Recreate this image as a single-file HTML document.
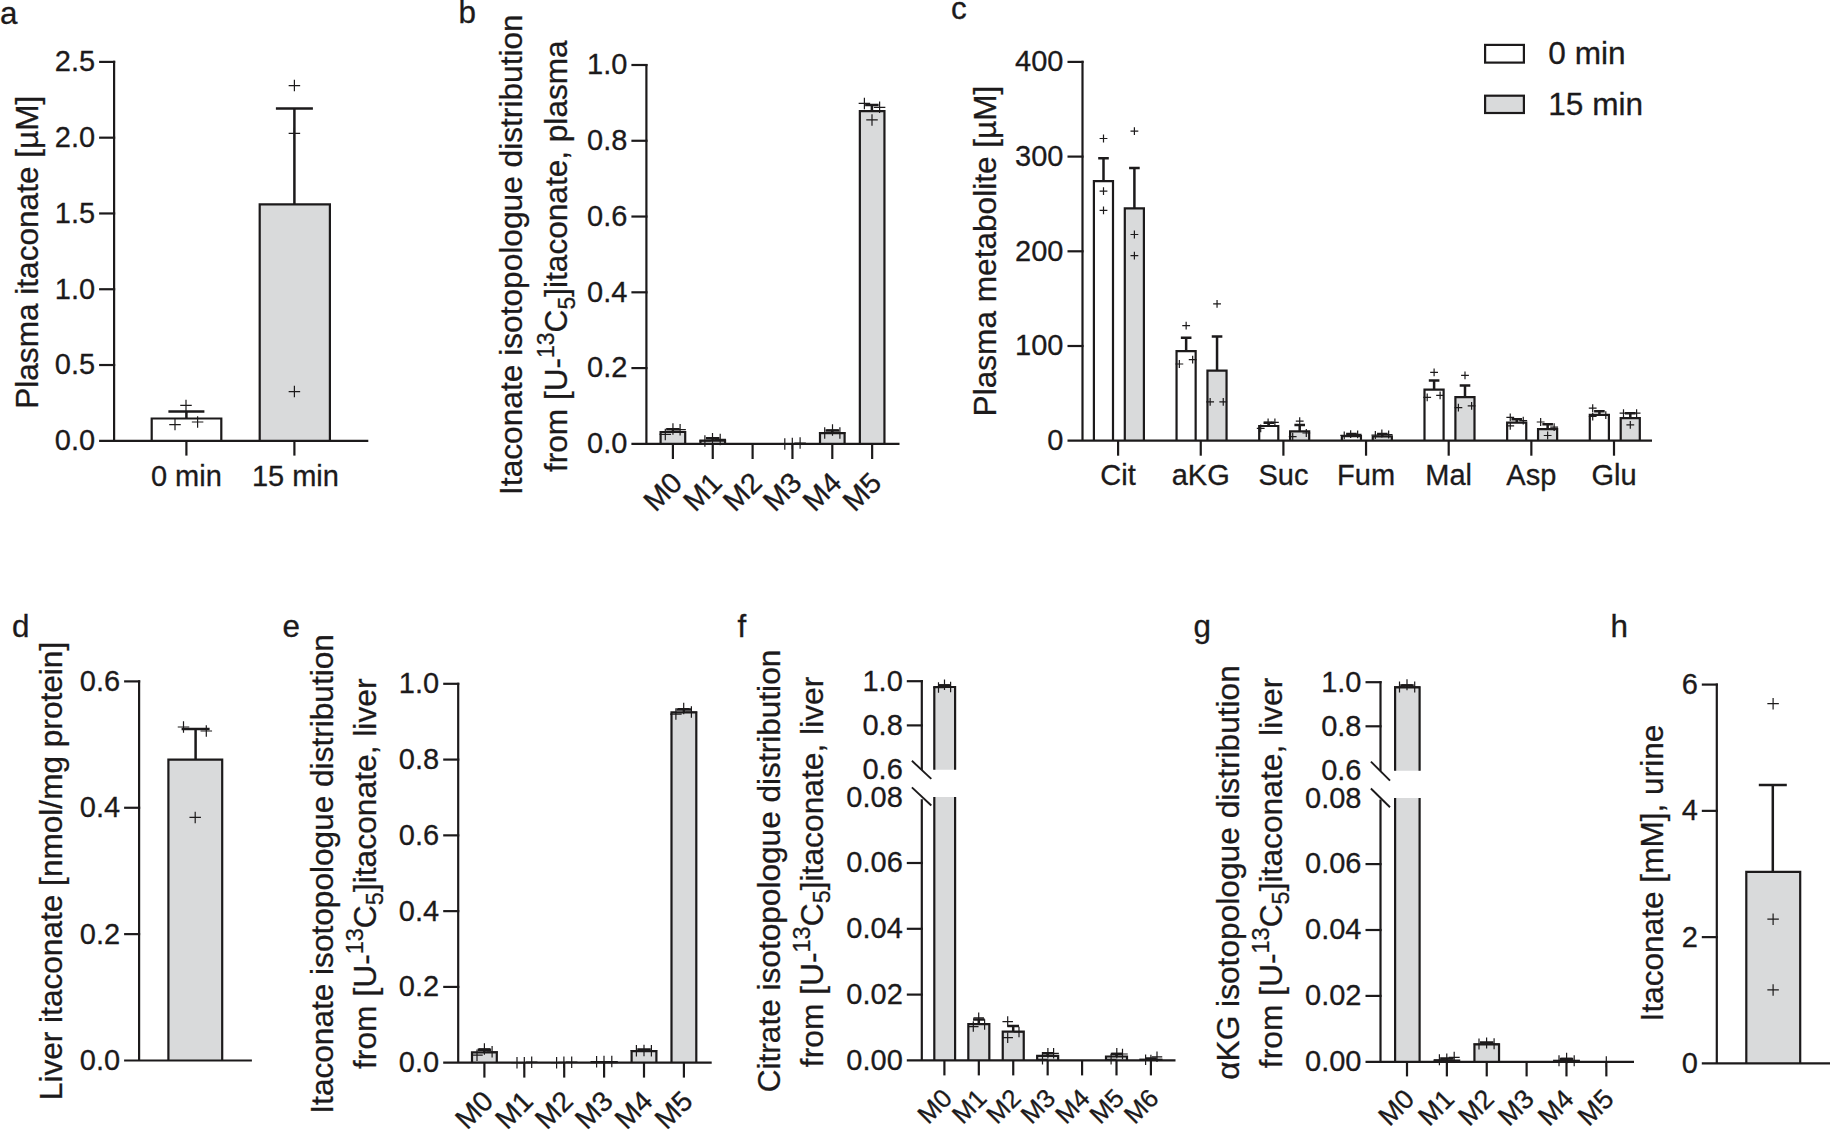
<!DOCTYPE html>
<html lang="en"><head><meta charset="utf-8"><title>Figure</title>
<style>
html,body{margin:0;padding:0;background:#fff;}
body{width:1830px;height:1130px;overflow:hidden;}
svg{display:block;}
svg text{font-family:"Liberation Sans",Arial,Helvetica,sans-serif;fill:#1c1a1b;stroke:#1c1a1b;stroke-width:0.3px;}
</style></head><body>
<svg width="1830" height="1130" viewBox="0 0 1830 1130">
<rect width="1830" height="1130" fill="#ffffff"/>
<path d="M151.70 440.80V418.50H221.30V440.80" fill="#ffffff" stroke="#1c1a1b" stroke-width="2.2" stroke-linejoin="miter"/>
<path d="M259.70 440.80V204.40H329.90V440.80" fill="#d9dadb" stroke="#1c1a1b" stroke-width="2.2" stroke-linejoin="miter"/>
<path d="M660.60 443.85V432.00H685.20V443.85" fill="#d9dadb" stroke="#1c1a1b" stroke-width="2.2" stroke-linejoin="miter"/>
<path d="M700.45 443.85V440.70H725.05V443.85" fill="#d9dadb" stroke="#1c1a1b" stroke-width="2.2" stroke-linejoin="miter"/>
<path d="M820.00 443.85V433.10H844.60V443.85" fill="#d9dadb" stroke="#1c1a1b" stroke-width="2.2" stroke-linejoin="miter"/>
<path d="M859.85 443.85V111.10H884.45V443.85" fill="#d9dadb" stroke="#1c1a1b" stroke-width="2.2" stroke-linejoin="miter"/>
<rect x="1485.10" y="44.90" width="38.80" height="17.70" fill="#ffffff" stroke="#1c1a1b" stroke-width="2.2"/>
<rect x="1485.10" y="95.70" width="38.80" height="17.30" fill="#d9dadb" stroke="#1c1a1b" stroke-width="2.2"/>
<path d="M1093.90 440.70V181.10H1113.00V440.70" fill="#ffffff" stroke="#1c1a1b" stroke-width="2.2" stroke-linejoin="miter"/>
<path d="M1124.80 440.70V208.40H1143.90V440.70" fill="#d9dadb" stroke="#1c1a1b" stroke-width="2.2" stroke-linejoin="miter"/>
<path d="M1176.55 440.70V351.20H1195.65V440.70" fill="#ffffff" stroke="#1c1a1b" stroke-width="2.2" stroke-linejoin="miter"/>
<path d="M1207.45 440.70V370.70H1226.55V440.70" fill="#d9dadb" stroke="#1c1a1b" stroke-width="2.2" stroke-linejoin="miter"/>
<path d="M1259.20 440.70V426.00H1278.30V440.70" fill="#ffffff" stroke="#1c1a1b" stroke-width="2.2" stroke-linejoin="miter"/>
<path d="M1290.10 440.70V431.30H1309.20V440.70" fill="#d9dadb" stroke="#1c1a1b" stroke-width="2.2" stroke-linejoin="miter"/>
<path d="M1341.85 440.70V436.20H1360.95V440.70" fill="#ffffff" stroke="#1c1a1b" stroke-width="2.2" stroke-linejoin="miter"/>
<path d="M1372.75 440.70V436.40H1391.85V440.70" fill="#d9dadb" stroke="#1c1a1b" stroke-width="2.2" stroke-linejoin="miter"/>
<path d="M1424.50 440.70V389.70H1443.60V440.70" fill="#ffffff" stroke="#1c1a1b" stroke-width="2.2" stroke-linejoin="miter"/>
<path d="M1455.40 440.70V397.20H1474.50V440.70" fill="#d9dadb" stroke="#1c1a1b" stroke-width="2.2" stroke-linejoin="miter"/>
<path d="M1507.15 440.70V422.70H1526.25V440.70" fill="#ffffff" stroke="#1c1a1b" stroke-width="2.2" stroke-linejoin="miter"/>
<path d="M1538.05 440.70V429.20H1557.15V440.70" fill="#d9dadb" stroke="#1c1a1b" stroke-width="2.2" stroke-linejoin="miter"/>
<path d="M1589.80 440.70V414.80H1608.90V440.70" fill="#ffffff" stroke="#1c1a1b" stroke-width="2.2" stroke-linejoin="miter"/>
<path d="M1620.70 440.70V418.20H1639.80V440.70" fill="#d9dadb" stroke="#1c1a1b" stroke-width="2.2" stroke-linejoin="miter"/>
<path d="M168.40 1060.50V759.60H222.20V1060.50" fill="#d9dadb" stroke="#1c1a1b" stroke-width="2.2" stroke-linejoin="miter"/>
<path d="M472.00 1062.70V1052.30H496.80V1062.70" fill="#d9dadb" stroke="#1c1a1b" stroke-width="2.2" stroke-linejoin="miter"/>
<path d="M590.60 1062.10H617.60" fill="none" stroke="#1c1a1b" stroke-width="2.2"/>
<path d="M631.60 1062.70V1051.20H656.40V1062.70" fill="#d9dadb" stroke="#1c1a1b" stroke-width="2.2" stroke-linejoin="miter"/>
<path d="M671.50 1062.70V712.40H696.30V1062.70" fill="#d9dadb" stroke="#1c1a1b" stroke-width="2.2" stroke-linejoin="miter"/>
<path d="M968.32 1060.40V1024.10H989.32V1060.40" fill="#d9dadb" stroke="#1c1a1b" stroke-width="2.2" stroke-linejoin="miter"/>
<path d="M1002.74 1060.40V1031.60H1023.74V1060.40" fill="#d9dadb" stroke="#1c1a1b" stroke-width="2.2" stroke-linejoin="miter"/>
<path d="M1037.16 1060.40V1055.80H1058.16V1060.40" fill="#d9dadb" stroke="#1c1a1b" stroke-width="2.2" stroke-linejoin="miter"/>
<path d="M1106.00 1060.40V1056.50H1127.00V1060.40" fill="#d9dadb" stroke="#1c1a1b" stroke-width="2.2" stroke-linejoin="miter"/>
<path d="M1139.32 1059.70H1162.52" fill="none" stroke="#1c1a1b" stroke-width="2.2"/>
<path d="M934.30 769.70V687.00H955.10V769.70" fill="#d9dadb" stroke="#1c1a1b" stroke-width="2.2"/>
<rect x="934.30" y="797.00" width="20.80" height="263.40" fill="#d9dadb"/>
<line x1="934.30" y1="797.00" x2="934.30" y2="1060.40" stroke="#1c1a1b" stroke-width="2.2"/>
<line x1="955.10" y1="797.00" x2="955.10" y2="1060.40" stroke="#1c1a1b" stroke-width="2.2"/>
<path d="M1434.57 1061.80V1060.50H1459.17V1061.80" fill="#d9dadb" stroke="#1c1a1b" stroke-width="2.2" stroke-linejoin="miter"/>
<path d="M1474.44 1061.80V1044.40H1499.04V1061.80" fill="#d9dadb" stroke="#1c1a1b" stroke-width="2.2" stroke-linejoin="miter"/>
<path d="M1553.08 1060.80H1579.88" fill="none" stroke="#1c1a1b" stroke-width="2.2"/>
<path d="M1395.10 770.70V687.30H1419.60V770.70" fill="#d9dadb" stroke="#1c1a1b" stroke-width="2.2"/>
<rect x="1395.10" y="798.00" width="24.50" height="263.80" fill="#d9dadb"/>
<line x1="1395.10" y1="798.00" x2="1395.10" y2="1061.80" stroke="#1c1a1b" stroke-width="2.2"/>
<line x1="1419.60" y1="798.00" x2="1419.60" y2="1061.80" stroke="#1c1a1b" stroke-width="2.2"/>
<path d="M1746.30 1063.40V871.90H1800.20V1063.40" fill="#d9dadb" stroke="#1c1a1b" stroke-width="2.2" stroke-linejoin="miter"/>
<line x1="114.10" y1="60.80" x2="114.10" y2="440.80" stroke="#1c1a1b" stroke-width="2.2"/>
<line x1="99.10" y1="365.02" x2="115.20" y2="365.02" stroke="#1c1a1b" stroke-width="2.2"/>
<line x1="99.10" y1="289.24" x2="115.20" y2="289.24" stroke="#1c1a1b" stroke-width="2.2"/>
<line x1="99.10" y1="213.46" x2="115.20" y2="213.46" stroke="#1c1a1b" stroke-width="2.2"/>
<line x1="99.10" y1="137.68" x2="115.20" y2="137.68" stroke="#1c1a1b" stroke-width="2.2"/>
<line x1="99.10" y1="61.90" x2="115.20" y2="61.90" stroke="#1c1a1b" stroke-width="2.2"/>
<line x1="99.10" y1="440.80" x2="368.30" y2="440.80" stroke="#1c1a1b" stroke-width="2.2"/>
<line x1="186.40" y1="440.80" x2="186.40" y2="455.60" stroke="#1c1a1b" stroke-width="2.2"/>
<line x1="294.40" y1="440.80" x2="294.40" y2="455.60" stroke="#1c1a1b" stroke-width="2.2"/>
<line x1="646.40" y1="63.90" x2="646.40" y2="443.85" stroke="#1c1a1b" stroke-width="2.2"/>
<line x1="631.40" y1="368.08" x2="647.50" y2="368.08" stroke="#1c1a1b" stroke-width="2.2"/>
<line x1="631.40" y1="292.31" x2="647.50" y2="292.31" stroke="#1c1a1b" stroke-width="2.2"/>
<line x1="631.40" y1="216.54" x2="647.50" y2="216.54" stroke="#1c1a1b" stroke-width="2.2"/>
<line x1="631.40" y1="140.77" x2="647.50" y2="140.77" stroke="#1c1a1b" stroke-width="2.2"/>
<line x1="631.40" y1="65.00" x2="647.50" y2="65.00" stroke="#1c1a1b" stroke-width="2.2"/>
<line x1="631.40" y1="443.85" x2="899.50" y2="443.85" stroke="#1c1a1b" stroke-width="2.2"/>
<line x1="672.90" y1="443.85" x2="672.90" y2="459.00" stroke="#1c1a1b" stroke-width="2.2"/>
<line x1="712.75" y1="443.85" x2="712.75" y2="459.00" stroke="#1c1a1b" stroke-width="2.2"/>
<line x1="752.60" y1="443.85" x2="752.60" y2="459.00" stroke="#1c1a1b" stroke-width="2.2"/>
<line x1="792.45" y1="443.85" x2="792.45" y2="459.00" stroke="#1c1a1b" stroke-width="2.2"/>
<line x1="832.30" y1="443.85" x2="832.30" y2="459.00" stroke="#1c1a1b" stroke-width="2.2"/>
<line x1="872.15" y1="443.85" x2="872.15" y2="459.00" stroke="#1c1a1b" stroke-width="2.2"/>
<line x1="1082.50" y1="60.80" x2="1082.50" y2="440.70" stroke="#1c1a1b" stroke-width="2.2"/>
<line x1="1067.50" y1="346.00" x2="1083.60" y2="346.00" stroke="#1c1a1b" stroke-width="2.2"/>
<line x1="1067.50" y1="251.30" x2="1083.60" y2="251.30" stroke="#1c1a1b" stroke-width="2.2"/>
<line x1="1067.50" y1="156.60" x2="1083.60" y2="156.60" stroke="#1c1a1b" stroke-width="2.2"/>
<line x1="1067.50" y1="61.90" x2="1083.60" y2="61.90" stroke="#1c1a1b" stroke-width="2.2"/>
<line x1="1067.50" y1="440.70" x2="1652.00" y2="440.70" stroke="#1c1a1b" stroke-width="2.2"/>
<line x1="1118.10" y1="440.70" x2="1118.10" y2="455.70" stroke="#1c1a1b" stroke-width="2.2"/>
<line x1="1200.75" y1="440.70" x2="1200.75" y2="455.70" stroke="#1c1a1b" stroke-width="2.2"/>
<line x1="1283.40" y1="440.70" x2="1283.40" y2="455.70" stroke="#1c1a1b" stroke-width="2.2"/>
<line x1="1366.05" y1="440.70" x2="1366.05" y2="455.70" stroke="#1c1a1b" stroke-width="2.2"/>
<line x1="1448.70" y1="440.70" x2="1448.70" y2="455.70" stroke="#1c1a1b" stroke-width="2.2"/>
<line x1="1531.35" y1="440.70" x2="1531.35" y2="455.70" stroke="#1c1a1b" stroke-width="2.2"/>
<line x1="1614.00" y1="440.70" x2="1614.00" y2="455.70" stroke="#1c1a1b" stroke-width="2.2"/>
<line x1="139.10" y1="680.30" x2="139.10" y2="1060.50" stroke="#1c1a1b" stroke-width="2.2"/>
<line x1="124.10" y1="934.13" x2="140.20" y2="934.13" stroke="#1c1a1b" stroke-width="2.2"/>
<line x1="124.10" y1="807.76" x2="140.20" y2="807.76" stroke="#1c1a1b" stroke-width="2.2"/>
<line x1="124.10" y1="681.39" x2="140.20" y2="681.39" stroke="#1c1a1b" stroke-width="2.2"/>
<line x1="124.10" y1="1060.50" x2="251.90" y2="1060.50" stroke="#1c1a1b" stroke-width="2.2"/>
<line x1="458.20" y1="682.70" x2="458.20" y2="1062.70" stroke="#1c1a1b" stroke-width="2.2"/>
<line x1="443.20" y1="986.92" x2="459.30" y2="986.92" stroke="#1c1a1b" stroke-width="2.2"/>
<line x1="443.20" y1="911.14" x2="459.30" y2="911.14" stroke="#1c1a1b" stroke-width="2.2"/>
<line x1="443.20" y1="835.36" x2="459.30" y2="835.36" stroke="#1c1a1b" stroke-width="2.2"/>
<line x1="443.20" y1="759.58" x2="459.30" y2="759.58" stroke="#1c1a1b" stroke-width="2.2"/>
<line x1="443.20" y1="683.80" x2="459.30" y2="683.80" stroke="#1c1a1b" stroke-width="2.2"/>
<line x1="443.20" y1="1062.70" x2="711.70" y2="1062.70" stroke="#1c1a1b" stroke-width="2.2"/>
<line x1="484.40" y1="1062.70" x2="484.40" y2="1077.60" stroke="#1c1a1b" stroke-width="2.2"/>
<line x1="524.30" y1="1062.70" x2="524.30" y2="1077.60" stroke="#1c1a1b" stroke-width="2.2"/>
<line x1="564.20" y1="1062.70" x2="564.20" y2="1077.60" stroke="#1c1a1b" stroke-width="2.2"/>
<line x1="604.10" y1="1062.70" x2="604.10" y2="1077.60" stroke="#1c1a1b" stroke-width="2.2"/>
<line x1="644.00" y1="1062.70" x2="644.00" y2="1077.60" stroke="#1c1a1b" stroke-width="2.2"/>
<line x1="683.90" y1="1062.70" x2="683.90" y2="1077.60" stroke="#1c1a1b" stroke-width="2.2"/>
<line x1="921.80" y1="680.10" x2="921.80" y2="770.00" stroke="#1c1a1b" stroke-width="2.2"/>
<line x1="921.80" y1="799.20" x2="921.80" y2="1060.40" stroke="#1c1a1b" stroke-width="2.2"/>
<line x1="906.80" y1="681.20" x2="922.90" y2="681.20" stroke="#1c1a1b" stroke-width="2.2"/>
<line x1="906.80" y1="725.40" x2="922.90" y2="725.40" stroke="#1c1a1b" stroke-width="2.2"/>
<line x1="906.80" y1="994.60" x2="922.90" y2="994.60" stroke="#1c1a1b" stroke-width="2.2"/>
<line x1="906.80" y1="928.80" x2="922.90" y2="928.80" stroke="#1c1a1b" stroke-width="2.2"/>
<line x1="906.80" y1="863.00" x2="922.90" y2="863.00" stroke="#1c1a1b" stroke-width="2.2"/>
<line x1="911.90" y1="760.80" x2="931.30" y2="778.90" stroke="#1c1a1b" stroke-width="1.9"/>
<line x1="911.90" y1="787.40" x2="931.30" y2="805.50" stroke="#1c1a1b" stroke-width="1.9"/>
<line x1="906.80" y1="1060.40" x2="1175.50" y2="1060.40" stroke="#1c1a1b" stroke-width="2.2"/>
<line x1="944.40" y1="1060.40" x2="944.40" y2="1075.40" stroke="#1c1a1b" stroke-width="2.2"/>
<line x1="978.82" y1="1060.40" x2="978.82" y2="1075.40" stroke="#1c1a1b" stroke-width="2.2"/>
<line x1="1013.24" y1="1060.40" x2="1013.24" y2="1075.40" stroke="#1c1a1b" stroke-width="2.2"/>
<line x1="1047.66" y1="1060.40" x2="1047.66" y2="1075.40" stroke="#1c1a1b" stroke-width="2.2"/>
<line x1="1082.08" y1="1060.40" x2="1082.08" y2="1075.40" stroke="#1c1a1b" stroke-width="2.2"/>
<line x1="1116.50" y1="1060.40" x2="1116.50" y2="1075.40" stroke="#1c1a1b" stroke-width="2.2"/>
<line x1="1150.92" y1="1060.40" x2="1150.92" y2="1075.40" stroke="#1c1a1b" stroke-width="2.2"/>
<line x1="1380.50" y1="681.10" x2="1380.50" y2="770.90" stroke="#1c1a1b" stroke-width="2.2"/>
<line x1="1380.50" y1="799.40" x2="1380.50" y2="1061.80" stroke="#1c1a1b" stroke-width="2.2"/>
<line x1="1365.50" y1="682.20" x2="1381.60" y2="682.20" stroke="#1c1a1b" stroke-width="2.2"/>
<line x1="1365.50" y1="726.30" x2="1381.60" y2="726.30" stroke="#1c1a1b" stroke-width="2.2"/>
<line x1="1365.50" y1="995.90" x2="1381.60" y2="995.90" stroke="#1c1a1b" stroke-width="2.2"/>
<line x1="1365.50" y1="930.00" x2="1381.60" y2="930.00" stroke="#1c1a1b" stroke-width="2.2"/>
<line x1="1365.50" y1="864.10" x2="1381.60" y2="864.10" stroke="#1c1a1b" stroke-width="2.2"/>
<line x1="1370.90" y1="761.60" x2="1390.00" y2="780.60" stroke="#1c1a1b" stroke-width="1.9"/>
<line x1="1370.90" y1="788.50" x2="1390.00" y2="807.20" stroke="#1c1a1b" stroke-width="1.9"/>
<line x1="1365.50" y1="1061.80" x2="1634.00" y2="1061.80" stroke="#1c1a1b" stroke-width="2.2"/>
<line x1="1407.00" y1="1061.80" x2="1407.00" y2="1076.40" stroke="#1c1a1b" stroke-width="2.2"/>
<line x1="1446.87" y1="1061.80" x2="1446.87" y2="1076.40" stroke="#1c1a1b" stroke-width="2.2"/>
<line x1="1486.74" y1="1061.80" x2="1486.74" y2="1076.40" stroke="#1c1a1b" stroke-width="2.2"/>
<line x1="1526.61" y1="1061.80" x2="1526.61" y2="1076.40" stroke="#1c1a1b" stroke-width="2.2"/>
<line x1="1566.48" y1="1061.80" x2="1566.48" y2="1076.40" stroke="#1c1a1b" stroke-width="2.2"/>
<line x1="1606.35" y1="1061.80" x2="1606.35" y2="1076.40" stroke="#1c1a1b" stroke-width="2.2"/>
<line x1="1716.80" y1="683.50" x2="1716.80" y2="1063.40" stroke="#1c1a1b" stroke-width="2.2"/>
<line x1="1701.80" y1="937.13" x2="1717.90" y2="937.13" stroke="#1c1a1b" stroke-width="2.2"/>
<line x1="1701.80" y1="810.86" x2="1717.90" y2="810.86" stroke="#1c1a1b" stroke-width="2.2"/>
<line x1="1701.80" y1="684.59" x2="1717.90" y2="684.59" stroke="#1c1a1b" stroke-width="2.2"/>
<line x1="1701.80" y1="1063.40" x2="1830.00" y2="1063.40" stroke="#1c1a1b" stroke-width="2.2"/>
<path d="M186.40 418.00V411.40M168.40 411.40H204.40" stroke="#1c1a1b" stroke-width="2.5" fill="none"/>
<path d="M294.40 204.00V108.60M275.90 108.60H312.90" stroke="#1c1a1b" stroke-width="2.5" fill="none"/>
<path d="M180.25 405.40H191.75M186.00 399.65V411.15" stroke="#1c1a1b" stroke-width="1.2" fill="none"/>
<path d="M169.25 424.60H180.75M175.00 418.85V430.35" stroke="#1c1a1b" stroke-width="1.2" fill="none"/>
<path d="M191.85 422.00H203.35M197.60 416.25V427.75" stroke="#1c1a1b" stroke-width="1.2" fill="none"/>
<path d="M288.65 85.60H300.15M294.40 79.85V91.35" stroke="#1c1a1b" stroke-width="1.2" fill="none"/>
<path d="M288.65 133.40H300.15M294.40 127.65V139.15" stroke="#1c1a1b" stroke-width="1.2" fill="none"/>
<path d="M288.65 391.60H300.15M294.40 385.85V397.35" stroke="#1c1a1b" stroke-width="1.2" fill="none"/>
<path d="M672.90 431.00V429.30M666.15 429.30H679.65" stroke="#1c1a1b" stroke-width="2.5" fill="none"/>
<path d="M712.70 440.00V438.30M705.95 438.30H719.45" stroke="#1c1a1b" stroke-width="2.5" fill="none"/>
<path d="M832.30 432.00V430.50M825.55 430.50H839.05" stroke="#1c1a1b" stroke-width="2.5" fill="none"/>
<path d="M871.90 110.00V105.00M865.15 105.00H878.65" stroke="#1c1a1b" stroke-width="2.5" fill="none"/>
<path d="M667.20 429.00H678.70M672.95 423.25V434.75" stroke="#1c1a1b" stroke-width="1.2" fill="none"/>
<path d="M674.35 429.70H685.85M680.10 423.95V435.45" stroke="#1c1a1b" stroke-width="1.2" fill="none"/>
<path d="M659.55 434.40H671.05M665.30 428.65V440.15" stroke="#1c1a1b" stroke-width="1.2" fill="none"/>
<path d="M699.15 441.00H710.65M704.90 435.25V446.75" stroke="#1c1a1b" stroke-width="1.2" fill="none"/>
<path d="M706.75 438.70H718.25M712.50 432.95V444.45" stroke="#1c1a1b" stroke-width="1.2" fill="none"/>
<path d="M714.45 439.40H725.95M720.20 433.65V445.15" stroke="#1c1a1b" stroke-width="1.2" fill="none"/>
<path d="M779.05 443.90H790.55M784.80 438.15V449.65" stroke="#1c1a1b" stroke-width="1.2" fill="none"/>
<path d="M786.55 443.60H798.05M792.30 437.85V449.35" stroke="#1c1a1b" stroke-width="1.2" fill="none"/>
<path d="M794.35 443.00H805.85M800.10 437.25V448.75" stroke="#1c1a1b" stroke-width="1.2" fill="none"/>
<path d="M818.95 433.00H830.45M824.70 427.25V438.75" stroke="#1c1a1b" stroke-width="1.2" fill="none"/>
<path d="M826.75 430.00H838.25M832.50 424.25V435.75" stroke="#1c1a1b" stroke-width="1.2" fill="none"/>
<path d="M834.15 433.00H845.65M839.90 427.25V438.75" stroke="#1c1a1b" stroke-width="1.2" fill="none"/>
<path d="M858.65 103.40H870.15M864.40 97.65V109.15" stroke="#1c1a1b" stroke-width="1.2" fill="none"/>
<path d="M873.85 107.30H885.35M879.60 101.55V113.05" stroke="#1c1a1b" stroke-width="1.2" fill="none"/>
<path d="M866.25 119.90H877.75M872.00 114.15V125.65" stroke="#1c1a1b" stroke-width="1.2" fill="none"/>
<path d="M1103.50 181.00V158.30M1098.20 158.30H1108.80" stroke="#1c1a1b" stroke-width="2.5" fill="none"/>
<path d="M1099.60 138.50H1107.40M1103.50 134.60V142.40" stroke="#1c1a1b" stroke-width="1.2" fill="none"/>
<path d="M1099.60 191.20H1107.40M1103.50 187.30V195.10" stroke="#1c1a1b" stroke-width="1.2" fill="none"/>
<path d="M1099.60 210.40H1107.40M1103.50 206.50V214.30" stroke="#1c1a1b" stroke-width="1.2" fill="none"/>
<path d="M1134.40 208.30V167.90M1129.10 167.90H1139.70" stroke="#1c1a1b" stroke-width="2.5" fill="none"/>
<path d="M1130.50 131.10H1138.30M1134.40 127.20V135.00" stroke="#1c1a1b" stroke-width="1.2" fill="none"/>
<path d="M1130.50 234.50H1138.30M1134.40 230.60V238.40" stroke="#1c1a1b" stroke-width="1.2" fill="none"/>
<path d="M1130.50 255.60H1138.30M1134.40 251.70V259.50" stroke="#1c1a1b" stroke-width="1.2" fill="none"/>
<path d="M1186.15 351.10V337.70M1180.85 337.70H1191.45" stroke="#1c1a1b" stroke-width="2.5" fill="none"/>
<path d="M1182.25 325.60H1190.05M1186.15 321.70V329.50" stroke="#1c1a1b" stroke-width="1.2" fill="none"/>
<path d="M1175.45 364.00H1183.25M1179.35 360.10V367.90" stroke="#1c1a1b" stroke-width="1.2" fill="none"/>
<path d="M1188.75 359.70H1196.55M1192.65 355.80V363.60" stroke="#1c1a1b" stroke-width="1.2" fill="none"/>
<path d="M1217.05 370.60V336.50M1211.75 336.50H1222.35" stroke="#1c1a1b" stroke-width="2.5" fill="none"/>
<path d="M1213.15 303.90H1220.95M1217.05 300.00V307.80" stroke="#1c1a1b" stroke-width="1.2" fill="none"/>
<path d="M1206.25 401.80H1214.05M1210.15 397.90V405.70" stroke="#1c1a1b" stroke-width="1.2" fill="none"/>
<path d="M1219.35 401.80H1227.15M1223.25 397.90V405.70" stroke="#1c1a1b" stroke-width="1.2" fill="none"/>
<path d="M1268.80 425.90V422.80M1263.50 422.80H1274.10" stroke="#1c1a1b" stroke-width="2.5" fill="none"/>
<path d="M1264.20 422.30H1272.00M1268.10 418.40V426.20" stroke="#1c1a1b" stroke-width="1.2" fill="none"/>
<path d="M1271.00 422.40H1278.80M1274.90 418.50V426.30" stroke="#1c1a1b" stroke-width="1.2" fill="none"/>
<path d="M1256.80 428.30H1264.60M1260.70 424.40V432.20" stroke="#1c1a1b" stroke-width="1.2" fill="none"/>
<path d="M1299.70 431.20V425.10M1294.40 425.10H1305.00" stroke="#1c1a1b" stroke-width="2.5" fill="none"/>
<path d="M1295.80 421.20H1303.60M1299.70 417.30V425.10" stroke="#1c1a1b" stroke-width="1.2" fill="none"/>
<path d="M1288.80 436.70H1296.60M1292.70 432.80V440.60" stroke="#1c1a1b" stroke-width="1.2" fill="none"/>
<path d="M1302.40 433.00H1310.20M1306.30 429.10V436.90" stroke="#1c1a1b" stroke-width="1.2" fill="none"/>
<path d="M1351.45 436.10V434.00M1346.15 434.00H1356.75" stroke="#1c1a1b" stroke-width="2.5" fill="none"/>
<path d="M1340.35 435.30H1348.15M1344.25 431.40V439.20" stroke="#1c1a1b" stroke-width="1.2" fill="none"/>
<path d="M1346.75 434.10H1354.55M1350.65 430.20V438.00" stroke="#1c1a1b" stroke-width="1.2" fill="none"/>
<path d="M1353.75 434.30H1361.55M1357.65 430.40V438.20" stroke="#1c1a1b" stroke-width="1.2" fill="none"/>
<path d="M1382.35 436.30V434.00M1377.05 434.00H1387.65" stroke="#1c1a1b" stroke-width="2.5" fill="none"/>
<path d="M1371.45 435.00H1379.25M1375.35 431.10V438.90" stroke="#1c1a1b" stroke-width="1.2" fill="none"/>
<path d="M1377.95 433.50H1385.75M1381.85 429.60V437.40" stroke="#1c1a1b" stroke-width="1.2" fill="none"/>
<path d="M1384.75 434.50H1392.55M1388.65 430.60V438.40" stroke="#1c1a1b" stroke-width="1.2" fill="none"/>
<path d="M1434.10 389.60V380.40M1428.80 380.40H1439.40" stroke="#1c1a1b" stroke-width="2.5" fill="none"/>
<path d="M1430.20 372.40H1438.00M1434.10 368.50V376.30" stroke="#1c1a1b" stroke-width="1.2" fill="none"/>
<path d="M1423.30 397.30H1431.10M1427.20 393.40V401.20" stroke="#1c1a1b" stroke-width="1.2" fill="none"/>
<path d="M1436.20 395.40H1444.00M1440.10 391.50V399.30" stroke="#1c1a1b" stroke-width="1.2" fill="none"/>
<path d="M1465.00 397.10V385.60M1459.70 385.60H1470.30" stroke="#1c1a1b" stroke-width="2.5" fill="none"/>
<path d="M1461.10 375.40H1468.90M1465.00 371.50V379.30" stroke="#1c1a1b" stroke-width="1.2" fill="none"/>
<path d="M1454.50 407.70H1462.30M1458.40 403.80V411.60" stroke="#1c1a1b" stroke-width="1.2" fill="none"/>
<path d="M1467.70 405.80H1475.50M1471.60 401.90V409.70" stroke="#1c1a1b" stroke-width="1.2" fill="none"/>
<path d="M1516.75 422.60V419.30M1511.45 419.30H1522.05" stroke="#1c1a1b" stroke-width="2.5" fill="none"/>
<path d="M1506.35 417.40H1514.15M1510.25 413.50V421.30" stroke="#1c1a1b" stroke-width="1.2" fill="none"/>
<path d="M1506.35 425.80H1514.15M1510.25 421.90V429.70" stroke="#1c1a1b" stroke-width="1.2" fill="none"/>
<path d="M1519.35 420.70H1527.15M1523.25 416.80V424.60" stroke="#1c1a1b" stroke-width="1.2" fill="none"/>
<path d="M1547.65 429.10V424.20M1542.35 424.20H1552.95" stroke="#1c1a1b" stroke-width="2.5" fill="none"/>
<path d="M1536.75 422.00H1544.55M1540.65 418.10V425.90" stroke="#1c1a1b" stroke-width="1.2" fill="none"/>
<path d="M1550.25 427.20H1558.05M1554.15 423.30V431.10" stroke="#1c1a1b" stroke-width="1.2" fill="none"/>
<path d="M1543.75 435.50H1551.55M1547.65 431.60V439.40" stroke="#1c1a1b" stroke-width="1.2" fill="none"/>
<path d="M1599.40 414.70V411.20M1594.10 411.20H1604.70" stroke="#1c1a1b" stroke-width="2.5" fill="none"/>
<path d="M1588.80 408.10H1596.60M1592.70 404.20V412.00" stroke="#1c1a1b" stroke-width="1.2" fill="none"/>
<path d="M1588.80 416.50H1596.60M1592.70 412.60V420.40" stroke="#1c1a1b" stroke-width="1.2" fill="none"/>
<path d="M1601.90 415.10H1609.70M1605.80 411.20V419.00" stroke="#1c1a1b" stroke-width="1.2" fill="none"/>
<path d="M1630.30 418.10V413.20M1625.00 413.20H1635.60" stroke="#1c1a1b" stroke-width="2.5" fill="none"/>
<path d="M1619.60 413.20H1627.40M1623.50 409.30V417.10" stroke="#1c1a1b" stroke-width="1.2" fill="none"/>
<path d="M1632.70 413.20H1640.50M1636.60 409.30V417.10" stroke="#1c1a1b" stroke-width="1.2" fill="none"/>
<path d="M1626.40 424.80H1634.20M1630.30 420.90V428.70" stroke="#1c1a1b" stroke-width="1.2" fill="none"/>
<path d="M195.60 759.70V728.90M181.60 728.90H209.60" stroke="#1c1a1b" stroke-width="2.5" fill="none"/>
<path d="M177.75 727.00H189.25M183.50 721.25V732.75" stroke="#1c1a1b" stroke-width="1.2" fill="none"/>
<path d="M200.55 731.00H212.05M206.30 725.25V736.75" stroke="#1c1a1b" stroke-width="1.2" fill="none"/>
<path d="M189.45 817.40H200.95M195.20 811.65V823.15" stroke="#1c1a1b" stroke-width="1.2" fill="none"/>
<path d="M484.40 1052.00V1049.80M477.65 1049.80H491.15" stroke="#1c1a1b" stroke-width="2.5" fill="none"/>
<path d="M644.00 1051.00V1049.60M637.25 1049.60H650.75" stroke="#1c1a1b" stroke-width="2.5" fill="none"/>
<path d="M683.90 712.00V709.50M676.40 709.50H691.40" stroke="#1c1a1b" stroke-width="2.5" fill="none"/>
<path d="M478.65 1048.90H490.15M484.40 1043.15V1054.65" stroke="#1c1a1b" stroke-width="1.2" fill="none"/>
<path d="M486.35 1051.80H497.85M492.10 1046.05V1057.55" stroke="#1c1a1b" stroke-width="1.2" fill="none"/>
<path d="M471.25 1055.20H482.75M477.00 1049.45V1060.95" stroke="#1c1a1b" stroke-width="1.2" fill="none"/>
<path d="M511.25 1062.70H522.75M517.00 1056.95V1068.45" stroke="#1c1a1b" stroke-width="1.2" fill="none"/>
<path d="M518.55 1062.70H530.05M524.30 1056.95V1068.45" stroke="#1c1a1b" stroke-width="1.2" fill="none"/>
<path d="M525.95 1062.20H537.45M531.70 1056.45V1067.95" stroke="#1c1a1b" stroke-width="1.2" fill="none"/>
<path d="M550.85 1062.70H562.35M556.60 1056.95V1068.45" stroke="#1c1a1b" stroke-width="1.2" fill="none"/>
<path d="M558.15 1062.30H569.65M563.90 1056.55V1068.05" stroke="#1c1a1b" stroke-width="1.2" fill="none"/>
<path d="M565.95 1062.20H577.45M571.70 1056.45V1067.95" stroke="#1c1a1b" stroke-width="1.2" fill="none"/>
<path d="M590.85 1061.70H602.35M596.60 1055.95V1067.45" stroke="#1c1a1b" stroke-width="1.2" fill="none"/>
<path d="M598.25 1061.50H609.75M604.00 1055.75V1067.25" stroke="#1c1a1b" stroke-width="1.2" fill="none"/>
<path d="M606.05 1061.60H617.55M611.80 1055.85V1067.35" stroke="#1c1a1b" stroke-width="1.2" fill="none"/>
<path d="M630.65 1050.70H642.15M636.40 1044.95V1056.45" stroke="#1c1a1b" stroke-width="1.2" fill="none"/>
<path d="M638.25 1050.40H649.75M644.00 1044.65V1056.15" stroke="#1c1a1b" stroke-width="1.2" fill="none"/>
<path d="M645.65 1050.70H657.15M651.40 1044.95V1056.45" stroke="#1c1a1b" stroke-width="1.2" fill="none"/>
<path d="M677.95 708.50H689.45M683.70 702.75V714.25" stroke="#1c1a1b" stroke-width="1.2" fill="none"/>
<path d="M685.65 712.10H697.15M691.40 706.35V717.85" stroke="#1c1a1b" stroke-width="1.2" fill="none"/>
<path d="M670.15 714.10H681.65M675.90 708.35V719.85" stroke="#1c1a1b" stroke-width="1.2" fill="none"/>
<path d="M944.50 687.00V685.40M938.75 685.40H950.25" stroke="#1c1a1b" stroke-width="2.5" fill="none"/>
<path d="M978.80 1024.00V1019.50M973.05 1019.50H984.55" stroke="#1c1a1b" stroke-width="2.5" fill="none"/>
<path d="M1013.20 1031.00V1025.90M1007.40 1025.90H1019.00" stroke="#1c1a1b" stroke-width="2.5" fill="none"/>
<path d="M1047.60 1055.00V1053.30M1041.85 1053.30H1053.35" stroke="#1c1a1b" stroke-width="2.5" fill="none"/>
<path d="M1116.50 1056.00V1054.00M1110.75 1054.00H1122.25" stroke="#1c1a1b" stroke-width="2.5" fill="none"/>
<path d="M1150.90 1060.00V1058.60M1145.15 1058.60H1156.65" stroke="#1c1a1b" stroke-width="2.5" fill="none"/>
<path d="M939.25 684.80H949.75M944.50 679.55V690.05" stroke="#1c1a1b" stroke-width="1.2" fill="none"/>
<path d="M933.25 687.60H943.75M938.50 682.35V692.85" stroke="#1c1a1b" stroke-width="1.2" fill="none"/>
<path d="M945.35 686.90H955.85M950.60 681.65V692.15" stroke="#1c1a1b" stroke-width="1.2" fill="none"/>
<path d="M973.45 1017.80H983.95M978.70 1012.55V1023.05" stroke="#1c1a1b" stroke-width="1.2" fill="none"/>
<path d="M968.05 1026.60H978.55M973.30 1021.35V1031.85" stroke="#1c1a1b" stroke-width="1.2" fill="none"/>
<path d="M979.35 1024.50H989.85M984.60 1019.25V1029.75" stroke="#1c1a1b" stroke-width="1.2" fill="none"/>
<path d="M1002.45 1021.60H1012.95M1007.70 1016.35V1026.85" stroke="#1c1a1b" stroke-width="1.2" fill="none"/>
<path d="M1002.45 1037.70H1012.95M1007.70 1032.45V1042.95" stroke="#1c1a1b" stroke-width="1.2" fill="none"/>
<path d="M1013.75 1032.00H1024.25M1019.00 1026.75V1037.25" stroke="#1c1a1b" stroke-width="1.2" fill="none"/>
<path d="M1042.65 1053.30H1053.15M1047.90 1048.05V1058.55" stroke="#1c1a1b" stroke-width="1.2" fill="none"/>
<path d="M1048.35 1053.30H1058.85M1053.60 1048.05V1058.55" stroke="#1c1a1b" stroke-width="1.2" fill="none"/>
<path d="M1037.25 1059.30H1047.75M1042.50 1054.05V1064.55" stroke="#1c1a1b" stroke-width="1.2" fill="none"/>
<path d="M1111.55 1053.30H1122.05M1116.80 1048.05V1058.55" stroke="#1c1a1b" stroke-width="1.2" fill="none"/>
<path d="M1117.25 1054.00H1127.75M1122.50 1048.75V1059.25" stroke="#1c1a1b" stroke-width="1.2" fill="none"/>
<path d="M1105.85 1059.30H1116.35M1111.10 1054.05V1064.55" stroke="#1c1a1b" stroke-width="1.2" fill="none"/>
<path d="M1140.35 1059.70H1150.85M1145.60 1054.45V1064.95" stroke="#1c1a1b" stroke-width="1.2" fill="none"/>
<path d="M1151.75 1056.80H1162.25M1157.00 1051.55V1062.05" stroke="#1c1a1b" stroke-width="1.2" fill="none"/>
<path d="M1145.65 1060.00H1156.15M1150.90 1054.75V1065.25" stroke="#1c1a1b" stroke-width="1.2" fill="none"/>
<path d="M1407.00 687.00V685.60M1400.25 685.60H1413.75" stroke="#1c1a1b" stroke-width="2.5" fill="none"/>
<path d="M1446.90 1060.00V1058.60M1440.15 1058.60H1453.65" stroke="#1c1a1b" stroke-width="2.5" fill="none"/>
<path d="M1486.70 1044.00V1042.40M1479.95 1042.40H1493.45" stroke="#1c1a1b" stroke-width="2.5" fill="none"/>
<path d="M1566.50 1060.00V1059.00M1559.75 1059.00H1573.25" stroke="#1c1a1b" stroke-width="2.5" fill="none"/>
<path d="M1394.00 686.90H1405.00M1399.50 681.40V692.40" stroke="#1c1a1b" stroke-width="1.2" fill="none"/>
<path d="M1401.50 684.80H1412.50M1407.00 679.30V690.30" stroke="#1c1a1b" stroke-width="1.2" fill="none"/>
<path d="M1409.20 686.90H1420.20M1414.70 681.40V692.40" stroke="#1c1a1b" stroke-width="1.2" fill="none"/>
<path d="M1433.90 1059.80H1444.90M1439.40 1054.30V1065.30" stroke="#1c1a1b" stroke-width="1.2" fill="none"/>
<path d="M1441.30 1059.00H1452.30M1446.80 1053.50V1064.50" stroke="#1c1a1b" stroke-width="1.2" fill="none"/>
<path d="M1448.70 1057.30H1459.70M1454.20 1051.80V1062.80" stroke="#1c1a1b" stroke-width="1.2" fill="none"/>
<path d="M1473.50 1044.00H1484.50M1479.00 1038.50V1049.50" stroke="#1c1a1b" stroke-width="1.2" fill="none"/>
<path d="M1481.10 1042.90H1492.10M1486.60 1037.40V1048.40" stroke="#1c1a1b" stroke-width="1.2" fill="none"/>
<path d="M1488.60 1043.80H1499.60M1494.10 1038.30V1049.30" stroke="#1c1a1b" stroke-width="1.2" fill="none"/>
<path d="M1553.50 1060.80H1564.50M1559.00 1055.30V1066.30" stroke="#1c1a1b" stroke-width="1.2" fill="none"/>
<path d="M1561.10 1058.30H1572.10M1566.60 1052.80V1063.80" stroke="#1c1a1b" stroke-width="1.2" fill="none"/>
<path d="M1568.70 1060.80H1579.70M1574.20 1055.30V1066.30" stroke="#1c1a1b" stroke-width="1.2" fill="none"/>
<path d="M1600.80 1061.80H1611.80M1606.30 1056.30V1067.30" stroke="#1c1a1b" stroke-width="1.2" fill="none"/>
<path d="M1772.80 871.50V785.00M1758.80 785.00H1786.80" stroke="#1c1a1b" stroke-width="2.5" fill="none"/>
<path d="M1767.35 703.70H1778.85M1773.10 697.95V709.45" stroke="#1c1a1b" stroke-width="1.2" fill="none"/>
<path d="M1767.35 919.20H1778.85M1773.10 913.45V924.95" stroke="#1c1a1b" stroke-width="1.2" fill="none"/>
<path d="M1767.35 989.90H1778.85M1773.10 984.15V995.65" stroke="#1c1a1b" stroke-width="1.2" fill="none"/>
<text x="0.00" y="23.60" font-size="31.4" text-anchor="start">a</text>
<text x="95.10" y="450.18" font-size="29" text-anchor="end">0.0</text>
<text x="95.10" y="374.40" font-size="29" text-anchor="end">0.5</text>
<text x="95.10" y="298.62" font-size="29" text-anchor="end">1.0</text>
<text x="95.10" y="222.84" font-size="29" text-anchor="end">1.5</text>
<text x="95.10" y="147.06" font-size="29" text-anchor="end">2.0</text>
<text x="95.10" y="71.28" font-size="29" text-anchor="end">2.5</text>
<text x="186.40" y="485.50" font-size="29" text-anchor="middle">0 min</text>
<text x="295.40" y="485.50" font-size="29" text-anchor="middle">15 min</text>
<text x="38.00" y="252.20" font-size="31.6" text-anchor="middle" transform="rotate(-90 38.00 252.20)">Plasma itaconate [µM]</text>
<text x="458.60" y="23.40" font-size="31.4" text-anchor="start">b</text>
<text x="627.40" y="453.23" font-size="29" text-anchor="end">0.0</text>
<text x="627.40" y="377.46" font-size="29" text-anchor="end">0.2</text>
<text x="627.40" y="301.69" font-size="29" text-anchor="end">0.4</text>
<text x="627.40" y="225.92" font-size="29" text-anchor="end">0.6</text>
<text x="627.40" y="150.15" font-size="29" text-anchor="end">0.8</text>
<text x="627.40" y="74.38" font-size="29" text-anchor="end">1.0</text>
<text x="683.90" y="484.60" font-size="29" text-anchor="end" transform="rotate(-45 683.90 484.60)">M0</text>
<text x="723.75" y="484.60" font-size="29" text-anchor="end" transform="rotate(-45 723.75 484.60)">M1</text>
<text x="763.60" y="484.60" font-size="29" text-anchor="end" transform="rotate(-45 763.60 484.60)">M2</text>
<text x="803.45" y="484.60" font-size="29" text-anchor="end" transform="rotate(-45 803.45 484.60)">M3</text>
<text x="843.30" y="484.60" font-size="29" text-anchor="end" transform="rotate(-45 843.30 484.60)">M4</text>
<text x="883.15" y="484.60" font-size="29" text-anchor="end" transform="rotate(-45 883.15 484.60)">M5</text>
<text x="522.50" y="254.60" font-size="31.68" text-anchor="middle" transform="rotate(-90 522.50 254.60)">Itaconate isotopologue distribution</text>
<text x="567.20" y="256.20" font-size="31.6" text-anchor="middle" transform="rotate(-90 567.20 256.20)">from [U-<tspan font-size="23.0" dy="-13.0">13</tspan><tspan dy="13.0">C</tspan><tspan font-size="23.0" dy="7.4">5</tspan><tspan dy="-7.4">]itaconate, plasma</tspan></text>
<text x="951.00" y="19.40" font-size="31.4" text-anchor="start">c</text>
<text x="1063.50" y="450.08" font-size="29" text-anchor="end">0</text>
<text x="1063.50" y="355.38" font-size="29" text-anchor="end">100</text>
<text x="1063.50" y="260.68" font-size="29" text-anchor="end">200</text>
<text x="1063.50" y="165.98" font-size="29" text-anchor="end">300</text>
<text x="1063.50" y="71.28" font-size="29" text-anchor="end">400</text>
<text x="1118.10" y="484.80" font-size="29" text-anchor="middle">Cit</text>
<text x="1200.75" y="484.80" font-size="29" text-anchor="middle">aKG</text>
<text x="1283.40" y="484.80" font-size="29" text-anchor="middle">Suc</text>
<text x="1366.05" y="484.80" font-size="29" text-anchor="middle">Fum</text>
<text x="1448.70" y="484.80" font-size="29" text-anchor="middle">Mal</text>
<text x="1531.35" y="484.80" font-size="29" text-anchor="middle">Asp</text>
<text x="1614.00" y="484.80" font-size="29" text-anchor="middle">Glu</text>
<text x="1548.30" y="64.30" font-size="31.6" text-anchor="start">0 min</text>
<text x="1548.30" y="115.20" font-size="31.6" text-anchor="start">15 min</text>
<text x="996.00" y="251.00" font-size="31.6" text-anchor="middle" transform="rotate(-90 996.00 251.00)">Plasma metabolite [µM]</text>
<text x="12.00" y="636.50" font-size="31.4" text-anchor="start">d</text>
<text x="120.10" y="1069.88" font-size="29" text-anchor="end">0.0</text>
<text x="120.10" y="943.51" font-size="29" text-anchor="end">0.2</text>
<text x="120.10" y="817.14" font-size="29" text-anchor="end">0.4</text>
<text x="120.10" y="690.77" font-size="29" text-anchor="end">0.6</text>
<text x="61.60" y="871.00" font-size="31.6" text-anchor="middle" transform="rotate(-90 61.60 871.00)">Liver itaconate [nmol/mg protein]</text>
<text x="282.50" y="636.50" font-size="31.4" text-anchor="start">e</text>
<text x="439.20" y="1072.08" font-size="29" text-anchor="end">0.0</text>
<text x="439.20" y="996.30" font-size="29" text-anchor="end">0.2</text>
<text x="439.20" y="920.52" font-size="29" text-anchor="end">0.4</text>
<text x="439.20" y="844.74" font-size="29" text-anchor="end">0.6</text>
<text x="439.20" y="768.96" font-size="29" text-anchor="end">0.8</text>
<text x="439.20" y="693.18" font-size="29" text-anchor="end">1.0</text>
<text x="494.90" y="1102.90" font-size="28.4" text-anchor="end" transform="rotate(-45 494.90 1102.90)">M0</text>
<text x="534.80" y="1102.90" font-size="28.4" text-anchor="end" transform="rotate(-45 534.80 1102.90)">M1</text>
<text x="574.70" y="1102.90" font-size="28.4" text-anchor="end" transform="rotate(-45 574.70 1102.90)">M2</text>
<text x="614.60" y="1102.90" font-size="28.4" text-anchor="end" transform="rotate(-45 614.60 1102.90)">M3</text>
<text x="654.50" y="1102.90" font-size="28.4" text-anchor="end" transform="rotate(-45 654.50 1102.90)">M4</text>
<text x="694.40" y="1102.90" font-size="28.4" text-anchor="end" transform="rotate(-45 694.40 1102.90)">M5</text>
<text x="333.10" y="873.90" font-size="31.6" text-anchor="middle" transform="rotate(-90 333.10 873.90)">Itaconate isotopologue distribution</text>
<text x="375.80" y="873.70" font-size="31.78" text-anchor="middle" transform="rotate(-90 375.80 873.70)">from [U-<tspan font-size="23.5" dy="-13.0">13</tspan><tspan dy="13.0">C</tspan><tspan font-size="23.5" dy="7.4">5</tspan><tspan dy="-7.4">]itaconate, liver</tspan></text>
<text x="737.60" y="637.00" font-size="31.4" text-anchor="start">f</text>
<text x="902.80" y="690.58" font-size="29" text-anchor="end">1.0</text>
<text x="902.80" y="734.78" font-size="29" text-anchor="end">0.8</text>
<text x="902.80" y="779.18" font-size="29" text-anchor="end">0.6</text>
<text x="902.80" y="806.98" font-size="29" text-anchor="end">0.08</text>
<text x="902.80" y="1069.78" font-size="29" text-anchor="end">0.00</text>
<text x="902.80" y="1003.98" font-size="29" text-anchor="end">0.02</text>
<text x="902.80" y="938.18" font-size="29" text-anchor="end">0.04</text>
<text x="902.80" y="872.38" font-size="29" text-anchor="end">0.06</text>
<text x="953.70" y="1099.80" font-size="25.9" text-anchor="end" transform="rotate(-45 953.70 1099.80)">M0</text>
<text x="988.12" y="1099.80" font-size="25.9" text-anchor="end" transform="rotate(-45 988.12 1099.80)">M1</text>
<text x="1022.54" y="1099.80" font-size="25.9" text-anchor="end" transform="rotate(-45 1022.54 1099.80)">M2</text>
<text x="1056.96" y="1099.80" font-size="25.9" text-anchor="end" transform="rotate(-45 1056.96 1099.80)">M3</text>
<text x="1091.38" y="1099.80" font-size="25.9" text-anchor="end" transform="rotate(-45 1091.38 1099.80)">M4</text>
<text x="1125.80" y="1099.80" font-size="25.9" text-anchor="end" transform="rotate(-45 1125.80 1099.80)">M5</text>
<text x="1160.22" y="1099.80" font-size="25.9" text-anchor="end" transform="rotate(-45 1160.22 1099.80)">M6</text>
<text x="780.30" y="871.00" font-size="31.6" text-anchor="middle" transform="rotate(-90 780.30 871.00)">Citrate isotopologue distribution</text>
<text x="823.00" y="871.90" font-size="31.78" text-anchor="middle" transform="rotate(-90 823.00 871.90)">from [U-<tspan font-size="23.5" dy="-13.0">13</tspan><tspan dy="13.0">C</tspan><tspan font-size="23.5" dy="7.4">5</tspan><tspan dy="-7.4">]itaconate, liver</tspan></text>
<text x="1193.40" y="637.00" font-size="31.4" text-anchor="start">g</text>
<text x="1361.50" y="691.58" font-size="29" text-anchor="end">1.0</text>
<text x="1361.50" y="735.68" font-size="29" text-anchor="end">0.8</text>
<text x="1361.50" y="780.08" font-size="29" text-anchor="end">0.6</text>
<text x="1361.50" y="807.78" font-size="29" text-anchor="end">0.08</text>
<text x="1361.50" y="1071.18" font-size="29" text-anchor="end">0.00</text>
<text x="1361.50" y="1005.28" font-size="29" text-anchor="end">0.02</text>
<text x="1361.50" y="939.38" font-size="29" text-anchor="end">0.04</text>
<text x="1361.50" y="873.48" font-size="29" text-anchor="end">0.06</text>
<text x="1416.00" y="1100.70" font-size="27" text-anchor="end" transform="rotate(-45 1416.00 1100.70)">M0</text>
<text x="1455.87" y="1100.70" font-size="27" text-anchor="end" transform="rotate(-45 1455.87 1100.70)">M1</text>
<text x="1495.74" y="1100.70" font-size="27" text-anchor="end" transform="rotate(-45 1495.74 1100.70)">M2</text>
<text x="1535.61" y="1100.70" font-size="27" text-anchor="end" transform="rotate(-45 1535.61 1100.70)">M3</text>
<text x="1575.48" y="1100.70" font-size="27" text-anchor="end" transform="rotate(-45 1575.48 1100.70)">M4</text>
<text x="1615.35" y="1100.70" font-size="27" text-anchor="end" transform="rotate(-45 1615.35 1100.70)">M5</text>
<text x="1239.00" y="872.45" font-size="31.7" text-anchor="middle" transform="rotate(-90 1239.00 872.45)">αKG isotopologue distribution</text>
<text x="1281.70" y="872.90" font-size="31.78" text-anchor="middle" transform="rotate(-90 1281.70 872.90)">from [U-<tspan font-size="23.5" dy="-13.0">13</tspan><tspan dy="13.0">C</tspan><tspan font-size="23.5" dy="7.4">5</tspan><tspan dy="-7.4">]itaconate, liver</tspan></text>
<text x="1610.50" y="637.00" font-size="31.4" text-anchor="start">h</text>
<text x="1697.80" y="1072.78" font-size="29" text-anchor="end">0</text>
<text x="1697.80" y="946.51" font-size="29" text-anchor="end">2</text>
<text x="1697.80" y="820.24" font-size="29" text-anchor="end">4</text>
<text x="1697.80" y="693.97" font-size="29" text-anchor="end">6</text>
<text x="1663.00" y="873.00" font-size="31.6" text-anchor="middle" transform="rotate(-90 1663.00 873.00)">Itaconate [mM], urine</text>
</svg>
</body></html>
